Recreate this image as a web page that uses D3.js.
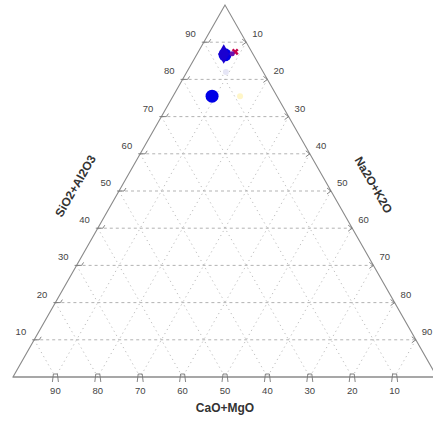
<!DOCTYPE html>
<html>
<head>
<meta charset="utf-8">
<script src="https://cdn.jsdelivr.net/npm/d3@7"></script>
<style>
  body { margin: 0; background: #fff; }
  text { font-family: "Liberation Sans", Arial, sans-serif; }
</style>
</head>
<body>
<div id="chart"></div>
<script>
// ternary data: SiO2+Al2O3 (top), CaO+MgO (left), Na2O+K2O (right), in %
var ticks = [10, 20, 30, 40, 50, 60, 70, 80, 90];
var sio2  = [86.6, 86.8, 87.4, 75.5, 75.5, 82.0];
var cao   = [6.7, 6.9, 3.9, 15.3, 8.7, 8.8];
var na2o  = [6.7, 6.3, 8.7, 9.2, 15.8, 9.2];
var kind  = ["circle", "diamond", "cross", "circle", "faintY", "faintB"];

var W = 433, H = 421;
var apex = [225, 5], left = [13, 377], right = [437, 377];

var svg = d3.select("#chart").append("svg")
  .attr("width", W).attr("height", H);

// vertical scale from the top component
var y = d3.scaleLinear().domain([0, 100]).range([left[1], apex[1]]);

// a, b, c = top, left, right (%)
function proj(a, b, c) {
  var s = a + b + c;
  a = a / s * 100; b = b / s * 100; c = c / s * 100;
  var px = apex[0] * a / 100 + left[0] * b / 100 + right[0] * c / 100;
  return [px, y(a)];
}

var grid = svg.append("g");
ticks.forEach(function(v) {
  // horizontal lines (constant top)
  var p1 = proj(v, 100 - v, 0), p2 = proj(v, 0, 100 - v);
  grid.append("line").attr("x1", p1[0]).attr("y1", p1[1]).attr("x2", p2[0]).attr("y2", p2[1])
    .attr("stroke", "#aaa").attr("stroke-dasharray", "3,3").attr("stroke-width", 0.9);
  // constant left component
  var q1 = proj(100 - v, v, 0), q2 = proj(0, v, 100 - v);
  grid.append("line").attr("x1", q1[0]).attr("y1", q1[1]).attr("x2", q2[0]).attr("y2", q2[1])
    .attr("stroke", "#bdbdbd").attr("stroke-dasharray", "1.2,3.5").attr("stroke-width", 1);
  // constant right component
  var r1 = proj(100 - v, 0, v), r2 = proj(0, 100 - v, v);
  grid.append("line").attr("x1", r1[0]).attr("y1", r1[1]).attr("x2", r2[0]).attr("y2", r2[1])
    .attr("stroke", "#bdbdbd").attr("stroke-dasharray", "1.2,3.5").attr("stroke-width", 1);
});

// frame
svg.append("path")
  .attr("d", d3.line()([apex, left, right, apex]) + "Z")
  .attr("fill", "none").attr("stroke", "#8a8a8a").attr("stroke-width", 1.1);
svg.append("line").attr("x1", left[0]).attr("x2", W).attr("y1", left[1]).attr("y2", left[1])
  .attr("stroke", "#8a8a8a").attr("stroke-width", 1.1);

var tk = svg.append("g").attr("stroke", "#777").attr("fill", "none").attr("stroke-width", 0.9);
var lab = svg.append("g").attr("font-size", "9.5px").attr("fill", "#444");

ticks.forEach(function(v) {
  // left edge: SiO2+Al2O3
  var p = proj(v, 100 - v, 0);
  tk.append("path").attr("d", d3.line()([[p[0] - 2, p[1]], [p[0] + 5, p[1]], [p[0] + 7, p[1] - 3]]));
  lab.append("text").attr("x", p[0] - 8).attr("y", p[1] - 5).attr("text-anchor", "end").text(v);
  // right edge: Na2O+K2O
  var r = proj(100 - v, 0, v);
  tk.append("path").attr("d", d3.line()([[r[0] - 4, r[1] - 3], [r[0], r[1]], [r[0] - 4, r[1] + 3]]));
  lab.append("text").attr("x", r[0] + 6).attr("y", r[1] - 5).text(v);
  // bottom edge: CaO+MgO
  var b = proj(0, v, 100 - v);
  tk.append("path").attr("d", d3.line()([[b[0] - 3, b[1] + 5], [b[0] - 2, b[1] - 3], [b[0] + 2, b[1] - 3], [b[0] + 3, b[1] + 5]]));
  lab.append("text").attr("x", b[0]).attr("y", b[1] + 17).attr("text-anchor", "middle").text(v);
});

// axis titles
svg.append("text").attr("x", 225).attr("y", 412).attr("text-anchor", "middle")
  .attr("font-size", "12px").attr("font-weight", "bold").attr("fill", "#333").text("CaO+MgO");
svg.append("text").attr("text-anchor", "middle")
  .attr("transform", "translate(79,188) rotate(-60)")
  .attr("font-size", "12px").attr("font-weight", "bold").attr("fill", "#333").text("SiO2+Al2O3");
svg.append("text").attr("text-anchor", "middle")
  .attr("transform", "translate(370,187) rotate(60)")
  .attr("font-size", "12px").attr("font-weight", "bold").attr("fill", "#333").text("Na2O+K2O");

// data markers
var pts = svg.append("g");
sio2.forEach(function(a, i) {
  var p = proj(a, cao[i], na2o[i]);
  var k = kind[i];
  if (k === "circle") {
    pts.append("circle").attr("cx", p[0]).attr("cy", p[1]).attr("r", 6.5).attr("fill", "#0000e6");
  } else if (k === "diamond") {
    pts.append("path").attr("transform", "translate(" + p + ")")
      .attr("d", d3.symbol(d3.symbolDiamond, 110)()).attr("fill", "#1a00d0");
  } else if (k === "cross") {
    pts.append("path").attr("transform", "translate(" + p + ") rotate(45)")
      .attr("d", d3.symbol(d3.symbolCross, 30)()).attr("fill", "#c8004a");
    pts.append("circle").attr("cx", p[0] - 3).attr("cy", p[1] + 2).attr("r", 2.5).attr("fill", "#6a10b0");
  } else if (k === "faintY") {
    pts.append("circle").attr("cx", p[0]).attr("cy", p[1]).attr("r", 3).attr("fill", "#fff6c8");
  } else {
    pts.append("circle").attr("cx", p[0]).attr("cy", p[1]).attr("r", 3).attr("fill", "#e6e6f6");
  }
});
</script>
</body>
</html>
